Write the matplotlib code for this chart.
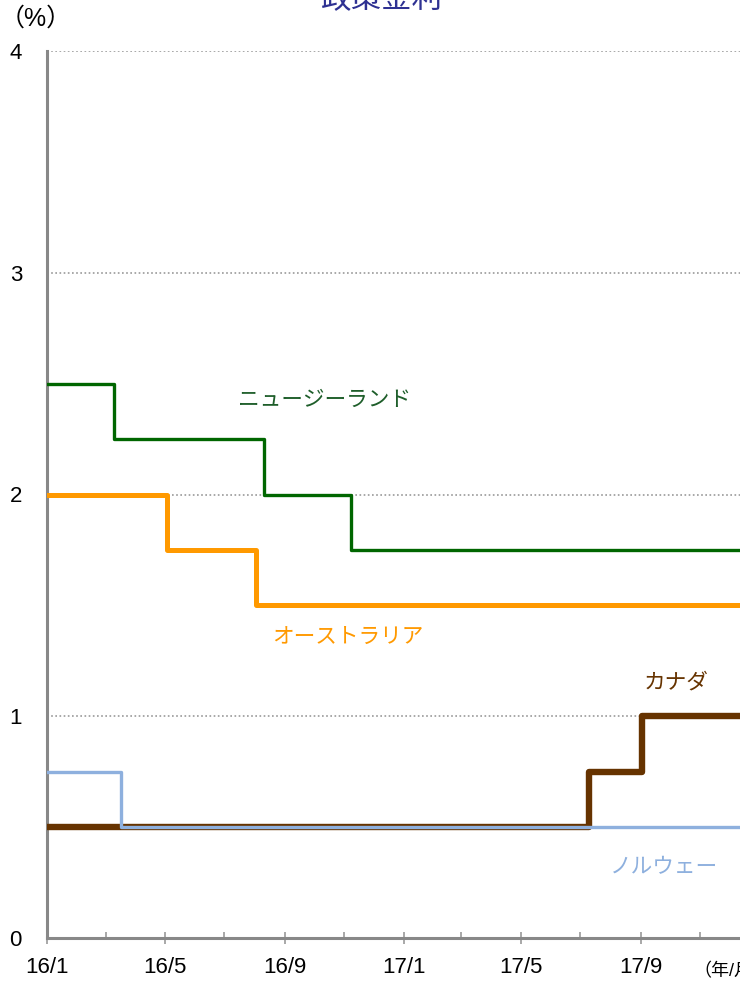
import matplotlib
matplotlib.use("Agg")
import matplotlib.pyplot as plt
import matplotlib.dates as mdates
import numpy as np
import datetime as dt

plt.rcParams['font.family'] = ['Liberation Sans', 'Noto Sans CJK JP', 'DejaVu Sans']

# Policy rate change dates and levels (step series)
end_date = "2018-01-15"
nz_dates = ["2016-01-01", "2016-03-10", "2016-08-11", "2016-11-08", end_date]
nz_rates = [2.50, 2.25, 2.00, 1.75, 1.75]
au_dates = ["2016-01-01", "2016-05-03", "2016-08-02", end_date]
au_rates = [2.00, 1.75, 1.50, 1.50]
ca_dates = ["2016-01-01", "2017-07-10", "2017-09-02", end_date]
ca_rates = [0.50, 0.75, 1.00, 1.00]
no_dates = ["2016-01-01", "2016-03-17", end_date]
no_rates = [0.75, 0.50, 0.50]

series_labels = ["ニュージーランド", "オーストラリア", "カナダ", "ノルウェー"]
x_tick_labels = ["16/1", "16/5", "16/9", "17/1", "17/5", "17/9"]
x_tick_dates = ["2016-01-01", "2016-05-01", "2016-09-01", "2017-01-01", "2017-05-01", "2017-09-01"]
x_minor_dates = ["2016-03-01", "2016-07-01", "2016-11-01", "2017-03-01", "2017-07-01", "2017-11-01"]
y_ticks = [0, 1, 2, 3, 4]

def d(s):
    return mdates.date2num(dt.datetime.strptime(s, "%Y-%m-%d"))

W, H = 740, 983
fig = plt.figure(figsize=(W / 100, H / 100), dpi=100)
x0 = d("2016-01-01")
x1 = d("2018-01-01")
px_per_day = 118 / (d("2016-05-01") - x0)
ax_right_px = 47 + (x1 - x0) * px_per_day
ax = fig.add_axes([47 / W, (H - 938) / H, (ax_right_px - 47) / W, (938 - 51) / H])
ax.set_xlim(x0, x1)
ax.set_ylim(0, 4)

c_nz = "#006600"
c_au = "#FF9900"
c_ca = "#663300"
c_no = "#8EB0DE"

for yv in [1, 2, 3, 4]:
    ax.axhline(yv, color="#999999", lw=1.2, ls=(0, (1, 1.5)), zorder=1)

ax.plot([d(s) for s in nz_dates], nz_rates, drawstyle="steps-post", color=c_nz, lw=2.4, zorder=3)
ax.plot([d(s) for s in au_dates], au_rates, drawstyle="steps-post", color=c_au, lw=3.6, zorder=3)
ax.plot([d(s) for s in ca_dates], ca_rates, drawstyle="steps-post", color=c_ca, lw=4.6, zorder=3)
ax.plot([d(s) for s in no_dates], no_rates, drawstyle="steps-post", color=c_no, lw=2.4, zorder=4)

for sp in ["top", "right"]:
    ax.spines[sp].set_visible(False)
for sp in ["left", "bottom"]:
    ax.spines[sp].set_color("#888888")
    ax.spines[sp].set_linewidth(2.2)

ax.set_xticks([d(s) for s in x_tick_dates])
ax.set_xticklabels(x_tick_labels, fontsize=16)
ax.set_xticks([d(s) for s in x_minor_dates], minor=True)
ax.tick_params(axis="x", which="major", direction="inout", length=9, width=1.2, color="#999999", pad=9)
ax.tick_params(axis="x", which="minor", direction="in", length=4, width=1.2, color="#999999")
ax.set_yticks(y_ticks)
ax.set_yticklabels([str(v) for v in y_ticks], fontsize=16)
ax.tick_params(axis="y", length=0, pad=18)

def to_data(px, py):
    xd = x0 + (px - 47) / px_per_day
    yd = (938 - py) / (938 - 51) * 4
    return xd, yd

tx, ty = to_data(325, 400)
ax.text(tx, ty, series_labels[0], color="#1E5E2A", fontsize=15.6, ha="center", va="center")
tx, ty = to_data(348, 637)
ax.text(tx, ty, series_labels[1], color=c_au, fontsize=15.6, ha="center", va="center")
tx, ty = to_data(676, 683)
ax.text(tx, ty, series_labels[2], color=c_ca, fontsize=15.6, ha="center", va="center")
tx, ty = to_data(664, 868)
ax.text(tx, ty, series_labels[3], color=c_no, fontsize=15.6, ha="center", va="center")

fig.text(382 / W, 1 - 0 / H, "政策金利", color="#2E3192", fontsize=22, ha="center", va="center")
fig.text(36 / W, 1 - 19 / H, "（%）", fontsize=18, ha="center", va="center")
fig.text(693 / W, 1 - 972 / H, "（年/月）", fontsize=13, ha="left", va="center")

fig.savefig("out.png", dpi=100)
